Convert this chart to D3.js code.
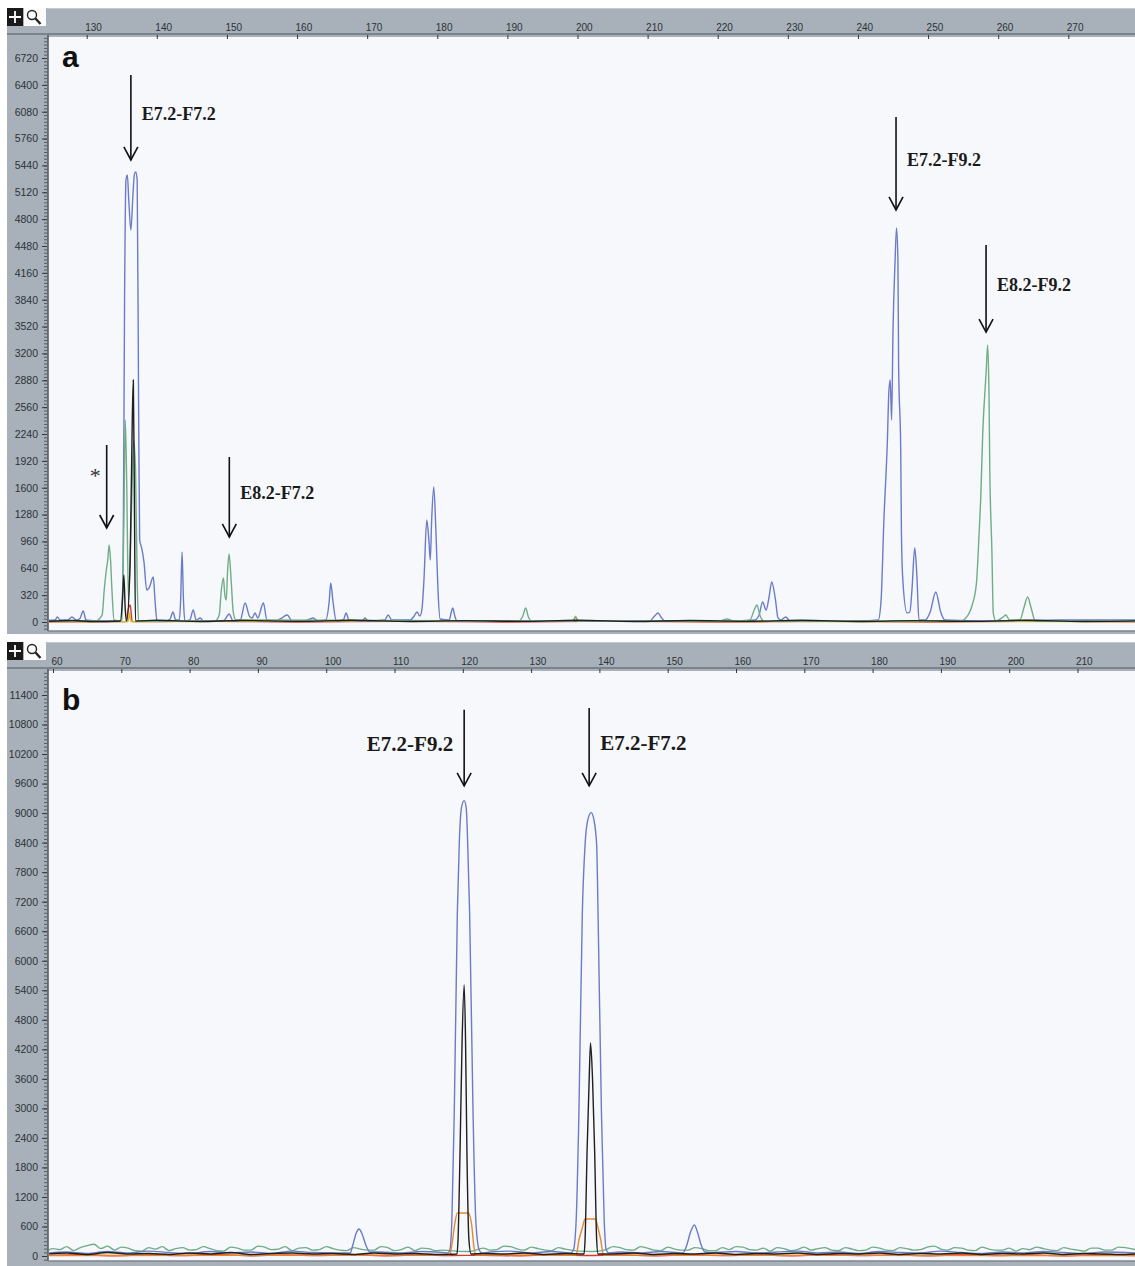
<!DOCTYPE html>
<html>
<head>
<meta charset="utf-8">
<script src="https://cdn.jsdelivr.net/npm/d3@7"></script>
<style>
body { margin: 0; background: #fff; }
svg { display: block; }
</style>
</head>
<body>
<script>
/*** Data ***/
// panel a : size (bp) ticks and RFU ticks
const aSizeTicks = [130, 140, 150, 160, 170, 180, 190, 200, 210, 220, 230, 240, 250, 260, 270]
const aRfuTicks = [0, 320, 640, 960, 1280, 1600, 1920, 2240, 2560, 2880, 3200, 3520, 3840, 4160, 4480, 4800, 5120, 5440, 5760, 6080, 6400, 6720]

// panel b
const bSizeTicks = [60, 70, 80, 90, 100, 110, 120, 130, 140, 150, 160, 170, 180, 190, 200, 210]
const bRfuTicks = [0, 600, 1200, 1800, 2400, 3000, 3600, 4200, 4800, 5400, 6000, 6600, 7200, 7800, 8400, 9000, 9600, 10200, 10800, 11400]

// traces: [size bp, rfu]
const aBlue = [
  [124.6,20],[125.5,24],[125.8,60],[126.2,24],[127.3,24],[127.9,60],[128.5,24],[129.0,36],[129.5,131],[129.9,24],
  [131.9,12],[134.5,12],[134.9,12],[135.2,739],[135.4,3836],[135.6,5266],[135.8,5326],[136.0,5028],[136.3,4670],
  [136.6,5100],[136.8,5330],[137.0,5362],[137.2,5266],[137.4,2645],[137.55,980],[137.84,882],[138.17,715],
  [138.56,381],[138.89,405],[139.5,536],[139.74,262],[140.03,12],[141.2,12],[141.9,36],[142.3,119],[142.7,24],
  [143.2,24],[143.4,262],[143.6,834],[143.8,262],[144.0,12],[144.7,24],[145.2,143],[145.6,24],[146.2,48],[146.6,12],
  [148.3,12],[149.6,20],[150.3,95],[150.9,12],[151.9,24],[152.6,226],[153.2,71],[153.6,48],[154.0,107],[154.4,48],
  [155.2,226],[155.7,24],[156.9,12],[157.6,36],[158.6,83],[159.3,12],[161.1,12],[162.3,48],[163.0,12],[164.1,24],
  [164.6,262],[164.8,465],[165.1,262],[165.6,12],[166.6,24],[167.0,107],[167.4,24],[169.3,12],[169.7,48],[170.1,12],
  [172.5,24],[173.0,83],[173.5,24],[176.1,24],[176.7,71],[177.1,119],[177.5,71],[177.8,143],[178.1,500],[178.5,1215],
  [178.8,977],[179.0,739],[179.2,1215],[179.5,1608],[179.8,1096],[180.1,381],[180.4,36],[181.7,24],[182.0,119],
  [182.2,167],[182.5,71],[182.8,12],[191.8,12],[200.0,15],[210.3,12],[211.0,71],[211.5,107],[211.9,60],[212.5,12],
  [223.2,12],[225.3,24],[225.9,83],[226.4,238],[226.9,143],[227.3,286],[227.7,477],[228.2,286],[228.6,48],[229.0,24],
  [229.7,60],[230.3,12],[240.3,12],[242.9,24],[243.3,262],[243.7,1215],[244.2,2168],[244.4,2728],[244.6,2883],
  [244.8,2407],[245.0,3479],[245.3,4313],[245.5,4694],[245.7,4313],[245.8,3038],[246.1,2049],[246.2,1060],[246.4,500],
  [247.0,107],[247.4,119],[247.7,381],[248.1,882],[248.4,560],[248.7,24],[249.6,24],[250.3,119],[251.1,357],
  [251.8,119],[252.4,24],[258.8,12],[268.8,24],[279.6,24]
]
const aGreen = [
  [124.6,12],[131.2,12],[132.2,83],[132.5,381],[132.8,620],[133.0,739],[133.2,918],[133.4,739],[133.6,381],[133.9,24],
  [134.8,12],[135.0,24],[135.3,1215],[135.5,2407],[135.7,1692],[135.96,262],[136.2,739],[136.5,1692],[136.7,2168],
  [136.96,1811],[137.2,500],[137.4,12],[148.3,12],[148.9,83],[149.2,381],[149.5,524],[149.7,322],[149.9,262],
  [150.1,620],[150.3,810],[150.6,500],[150.9,119],[151.3,24],[191.6,12],[192.2,71],[192.6,167],[193.0,60],[193.5,12],
  [199.4,12],[199.7,60],[200.1,12],[220.3,12],[221.3,36],[222.3,12],[224.6,24],[225.2,143],[225.6,203],[226.0,83],
  [226.6,12],[254.6,12],[255.7,83],[256.3,203],[256.9,465],[257.3,1096],[257.5,1454],[257.8,2252],[258.3,3003],
  [258.5,3300],[258.7,2645],[258.8,1847],[259.1,858],[259.3,107],[259.7,12],[260.7,60],[261.1,83],[261.6,24],
  [263.1,24],[263.7,179],[264.2,298],[264.7,167],[265.3,12],[279.6,12]
]
const aBlack = [
  [124.6,8],[128,18],[131,6],[134.8,12],[135.1,262],[135.3,560],[135.5,143],[135.7,12],[136.2,739],[136.5,2407],
  [136.65,2883],[136.8,1454],[136.96,12],[140,20],[146,6],[152,18],[160,8],[168,20],[176,6],[184,16],[192,8],[200,20],
  [208,6],[216,18],[224,8],[232,20],[240,6],[248,16],[256,8],[264,20],[272,6],[279.6,14]
]
const aRed = [
  [124.6,2],[135.6,4],[135.9,143],[136.2,203],[136.5,4],[145,10],[160,0],[175,8],[190,0],[205,10],[220,0],[235,8],
  [250,0],[265,10],[279.6,2]
]
const aYellow = [
  [124.6,4],[135.9,4],[136.1,110],[136.3,4],[170,10],[199.4,10],[199.7,70],[200.1,10],[230,4],[279.6,6]
]

const bBlue = [
  [59,60],[62,80],[65,50],[68,90],[71,60],[74,100],[77,70],[80,50],[83,90],[86,60],[89,80],[92,50],[95,100],[98,70],
  [101,60],[103.5,61],[103.9,224],[104.4,467],[104.8,549],[105.2,467],[105.8,224],[106.4,81],[108,80],[111,60],
  [114,90],[117,70],[117.8,61],[118.1,122],[118.4,732],[118.75,2907],[119.2,6972],[119.5,8455],[119.8,9106],
  [120.2,9254],[120.5,9106],[120.7,8455],[121.0,6972],[121.5,2907],[121.9,732],[122.4,122],[122.8,61],[124,80],
  [127,100],[130,60],[133,90],[135.8,61],[136.2,122],[136.6,732],[137.0,2907],[137.5,6972],[137.9,8354],[138.3,8862],
  [138.8,9010],[139.2,8862],[139.6,8354],[139.8,6972],[140.3,2907],[140.7,732],[141.0,122],[141.4,61],[143,80],
  [146,60],[149,90],[152.2,61],[152.8,224],[153.3,467],[153.9,630],[154.4,467],[154.9,224],[155.5,81],[157,70],
  [160,90],[163,60],[166,80],[169,100],[172,60],[175,80],[178,50],[181,90],[184,70],[187,60],[190,100],[193,70],
  [196,50],[199,80],[202,60],[205,90],[208,70],[211,50],[214,80],[218.5,60]
]
const bBlack = [
  [59,40],[62,60],[65,30],[68,70],[71,40],[74,50],[77,30],[80,60],[83,40],[86,70],[89,30],[92,50],[95,60],[98,40],
  [101,50],[104,30],[107,60],[110,40],[113,50],[116,30],[119.15,41],[119.3,325],[119.6,2154],[119.9,4390],[120.2,5508],
  [120.4,4390],[120.6,2154],[120.9,325],[121.2,41],[123,50],[126,40],[129,60],[132,30],[135,50],[137.75,41],
  [137.9,325],[138.2,2154],[138.5,3577],[138.7,4329],[139.0,3577],[139.3,2154],[139.6,325],[139.8,41],[142,40],
  [145,60],[148,30],[151,50],[154,40],[157,60],[160,30],[163,50],[166,40],[169,60],[172,30],[175,50],[178,40],
  [181,60],[184,30],[187,50],[190,40],[193,60],[196,30],[199,50],[202,40],[205,60],[208,30],[211,50],[214,40],
  [217,30],[218.5,40]
]
const bGreen = [
  [59,90],[60,150],[61,130],[62,190],[63,110],[64,170],[65,210],[66,240],[67,150],[68,200],[69,120],[70,180],[71,160],
  [72,110],[73,100],[74,170],[75,140],[76,190],[77,110],[78,150],[79,170],[80,120],[81,130],[82,190],[83,150],
  [84,110],[85,100],[86,180],[87,160],[88,120],[89,120],[90,200],[91,180],[92,130],[93,140],[94,190],[95,110],
  [96,160],[97,170],[98,120],[99,130],[100,190],[101,150],[102,120],[103,110],[104,170],[105,140],[106,120],
  [107,120],[108,190],[109,170],[110,110],[111,130],[112,180],[113,110],[114,160],[115,150],[116,110],[117,120],
  [119,100],[121,90],[123,160],[124,120],[125,130],[126,200],[127,190],[128,140],[129,120],[130,180],[131,150],
  [132,120],[133,110],[134,170],[135,140],[137,100],[139,90],[141,130],[142,190],[143,170],[144,130],[145,120],
  [146,190],[147,160],[148,120],[149,110],[150,180],[151,140],[152,120],[153,120],[154,170],[155,150],[156,110],
  [157,110],[158,170],[159,130],[160,190],[161,180],[162,130],[163,120],[164,160],[165,100],[166,170],[167,150],
  [168,110],[169,130],[170,180],[171,120],[172,150],[173,170],[174,120],[175,110],[176,170],[177,140],[178,110],
  [179,120],[180,180],[181,160],[182,120],[183,110],[184,170],[185,150],[186,120],[187,130],[188,180],[189,200],
  [190,140],[191,120],[192,170],[193,160],[194,120],[195,110],[196,180],[197,140],[198,120],[199,120],[200,160],
  [201,100],[202,150],[203,130],[204,180],[205,150],[206,120],[207,110],[208,170],[209,140],[210,120],[211,100],
  [212,160],[213,160],[214,120],[215,120],[216,180],[217,170],[218.5,130]
]
const bRed = [
  [59,10],[64,25],[69,5],[74,20],[79,10],[84,30],[89,5],[94,20],[99,10],[104,25],[109,5],[114,20],[118,10],[123,15],
  [128,5],[133,25],[138,10],[143,20],[148,5],[153,25],[158,10],[163,20],[168,5],[173,25],[178,10],[183,20],[188,5],
  [193,25],[198,10],[203,20],[208,5],[213,25],[218.5,10]
]
const bOrange = [
  [59,10],[118.1,20],[118.4,224],[118.8,630],[119.2,874],[120.8,874],[121.3,630],[121.6,224],[121.9,20],
  [136.6,20],[137.0,325],[137.5,569],[137.9,752],[139.4,752],[139.8,569],[140.2,325],[140.6,20],[218.5,10]
]

// peak annotations: label, size (bp), arrow top rfu, arrow tip rfu
const aLabels = ['E7.2-F7.2', '*', 'E8.2-F7.2', 'E7.2-F9.2', 'E8.2-F9.2']
const aLabelSize = [136.3, 132.85, 150.34, 245.43, 258.27]
const aArrowTop = [6517, 2109, 1966, 6017, 4492]
const aArrowTip = [5505, 1120, 1013, 4909, 3455]

const bLabels = ['E7.2-F9.2', 'E7.2-F7.2']
const bLabelSize = [120.2, 138.5]
const bArrowTop = [11098, 11138]
const bArrowTip = [9553, 9553]

/*** Colours ***/
const dye = {
  blue: '#6b7bc6', green: '#6fad86', black: '#1f1f1f',
  red: '#d8372b', orange: '#e8862f', yellow: '#d2bf25'
}
const frameGray = '#a8b1b9'

/*** Drawing ***/
const W = 1135, H = 1266

const svg = d3.select('body').append('svg')
  .attr('width', W).attr('height', H)
  .style('background', '#fff')

function drawPanel(p, idx) {
  const g = svg.append('g')

  // frame + ruler
  g.append('rect').attr('x', 7).attr('y', p.top)
    .attr('width', W - 7).attr('height', p.bottom - p.top).attr('fill', frameGray)
  g.append('rect').attr('x', 7).attr('y', p.plotTop - 4)
    .attr('width', W - 7).attr('height', 2).attr('fill', '#7a838b')
  g.append('rect').attr('x', 47).attr('y', p.top)
    .attr('width', W - 47).attr('height', 1).attr('fill', '#c3cad0')

  // plot area
  g.append('rect').attr('x', p.plotLeft).attr('y', p.plotTop)
    .attr('width', W - p.plotLeft).attr('height', p.plotBottom - p.plotTop)
    .attr('fill', '#f6f8fc')
  g.append('line')
    .attr('x1', p.plotLeft).attr('x2', p.plotLeft)
    .attr('y1', p.plotTop - 2).attr('y2', p.plotBottom)
    .attr('stroke', '#4c545b').attr('stroke-width', 1.5)
  g.append('line')
    .attr('x1', p.plotLeft).attr('x2', W)
    .attr('y1', p.plotBottom).attr('y2', p.plotBottom)
    .attr('stroke', '#7d868e').attr('stroke-width', 1.5)

  // icons
  g.append('rect').attr('x', 7).attr('y', p.top).attr('width', 16).attr('height', 18).attr('fill', '#1a1a1a')
  g.append('path')
    .attr('d', `M9,${p.top + 9}H21M15,${p.top + 3}V${p.top + 15}`)
    .attr('stroke', '#fff').attr('stroke-width', 1.8)
  g.append('rect').attr('x', 24).attr('y', p.top).attr('width', 22).attr('height', 18).attr('fill', '#fbfbfb')
  g.append('circle').attr('cx', 32).attr('cy', p.top + 7).attr('r', 4.5)
    .attr('fill', 'none').attr('stroke', '#222').attr('stroke-width', 1.4)
  g.append('line').attr('x1', 35.5).attr('y1', p.top + 10.5).attr('x2', 40.5).attr('y2', p.top + 16)
    .attr('stroke', '#222').attr('stroke-width', 2.4)

  // size ruler (top)
  const xAxis = d3.axisTop(p.x).tickValues(p.sizeTicks).tickSize(4).tickPadding(4)
  const xg = g.append('g')
    .attr('transform', `translate(0, ${p.top + 23 + 8})`)
    .call(xAxis)
  xg.select('.domain').remove()
  xg.selectAll('line').attr('stroke', '#30363b')
  xg.selectAll('text')
    .attr('text-anchor', 'start').attr('dx', -2)
    .style('font-family', 'Arial, "Liberation Sans", sans-serif')
    .style('font-size', '10px').attr('fill', '#2c3237')

  // rfu axis (left)
  const yMinor = d3.axisLeft(p.y).tickValues(p.minorTicks).tickSize(3).tickFormat('')
  const ym = g.append('g').attr('transform', `translate(${p.plotLeft - 1}, 0)`).call(yMinor)
  ym.select('.domain').remove()
  ym.selectAll('line').attr('stroke', '#3d444a').attr('stroke-width', 0.8)

  const yAxis = d3.axisLeft(p.y).tickValues(p.rfuTicks).tickSize(5).tickPadding(4).tickFormat(d3.format('d'))
  const yg = g.append('g').attr('transform', `translate(${p.plotLeft - 1}, 0)`).call(yAxis)
  yg.select('.domain').remove()
  yg.selectAll('line').attr('stroke', '#30363b')
  yg.selectAll('text')
    .style('font-family', 'Arial, "Liberation Sans", sans-serif')
    .style('font-size', '10.5px').attr('fill', '#2c3237')

  // traces
  const clipId = 'clip' + idx
  svg.append('clipPath').attr('id', clipId)
    .append('rect').attr('x', p.plotLeft + 1).attr('y', p.plotTop)
    .attr('width', W - p.plotLeft).attr('height', p.plotBottom - p.plotTop)

  const line = d3.line()
    .x(d => p.x(d[0]))
    .y(d => p.y(d[1]))
    .curve(d3.curveMonotoneX)

  const tg = g.append('g').attr('clip-path', `url(#${clipId})`)
  p.traces.forEach(t => {
    tg.append('path')
      .datum(t.data)
      .attr('d', line)
      .attr('fill', 'none')
      .attr('stroke', t.color)
      .attr('stroke-width', t.width || 1.4)
      .attr('stroke-linejoin', 'round')
  })

  // panel letter
  g.append('text')
    .attr('x', p.plotLeft + 14).attr('y', p.letterY)
    .text(p.letter)
    .style('font-family', 'Arial, "Liberation Sans", sans-serif')
    .style('font-weight', 'bold').style('font-size', '30px').attr('fill', '#111')

  // arrows + labels
  p.labels.forEach((lab, i) => {
    const ax = p.x(p.labelSize[i])
    const y0 = p.y(p.arrowTop[i])
    const y1 = p.y(p.arrowTip[i])
    g.append('line')
      .attr('x1', ax).attr('x2', ax).attr('y1', y0).attr('y2', y1)
      .attr('stroke', '#111').attr('stroke-width', 1.6)
    g.append('path')
      .attr('d', `M${ax - 7},${y1 - 13}L${ax},${y1}L${ax + 7},${y1 - 13}`)
      .attr('fill', 'none').attr('stroke', '#111').attr('stroke-width', 1.6)

    if (lab === '*') {
      g.append('text')
        .attr('x', ax - 6).attr('y', y0 + 38)
        .attr('text-anchor', 'end')
        .text(lab)
        .style('font-family', '"Liberation Serif", "Times New Roman", serif')
        .style('font-size', '22px').attr('fill', '#333')
      return
    }
    const left = p.labelLeft[i]
    g.append('text')
      .attr('x', left ? ax - 11 : ax + 11)
      .attr('y', (y0 + y1) / 2 - 4 + p.labelFont * 0.34)
      .attr('text-anchor', left ? 'end' : 'start')
      .text(lab)
      .style('font-family', '"Liberation Serif", "Times New Roman", serif')
      .style('font-weight', 'bold').style('font-size', p.labelFont + 'px').attr('fill', '#1a1a1a')
  })
}

const panelA = {
  top: 8, bottom: 634, plotTop: 37, plotBottom: 631, plotLeft: 48,
  x: d3.scaleLinear().domain([130, 270]).range([86.7, 1068.3]),
  y: d3.scaleLinear().domain([0, 6720]).range([622, 58]),
  sizeTicks: aSizeTicks, rfuTicks: aRfuTicks,
  minorTicks: d3.range(-80, 6961, 40),
  traces: [
    { data: aRed, color: dye.red },
    { data: aYellow, color: dye.yellow },
    { data: aBlue, color: dye.blue },
    { data: aGreen, color: dye.green },
    { data: aBlack, color: dye.black }
  ],
  letter: 'a', letterY: 67,
  labels: aLabels, labelSize: aLabelSize, arrowTop: aArrowTop, arrowTip: aArrowTip,
  labelLeft: [false, true, false, false, false], labelFont: 18
}

const panelB = {
  top: 642, bottom: 1266, plotTop: 671, plotBottom: 1261, plotLeft: 48,
  x: d3.scaleLinear().domain([60, 210]).range([53, 1077.5]),
  y: d3.scaleLinear().domain([0, 11400]).range([1256, 695]),
  sizeTicks: bSizeTicks, rfuTicks: bRfuTicks,
  minorTicks: d3.range(-75, 11851, 75),
  traces: [
    { data: bRed, color: dye.red },
    { data: bGreen, color: dye.green },
    { data: bBlue, color: dye.blue },
    { data: bOrange, color: dye.orange },
    { data: bBlack, color: dye.black }
  ],
  letter: 'b', letterY: 710,
  labels: bLabels, labelSize: bLabelSize, arrowTop: bArrowTop, arrowTip: bArrowTip,
  labelLeft: [true, false], labelFont: 21
}

drawPanel(panelA, 0)
drawPanel(panelB, 1)
</script>
</body>
</html>
